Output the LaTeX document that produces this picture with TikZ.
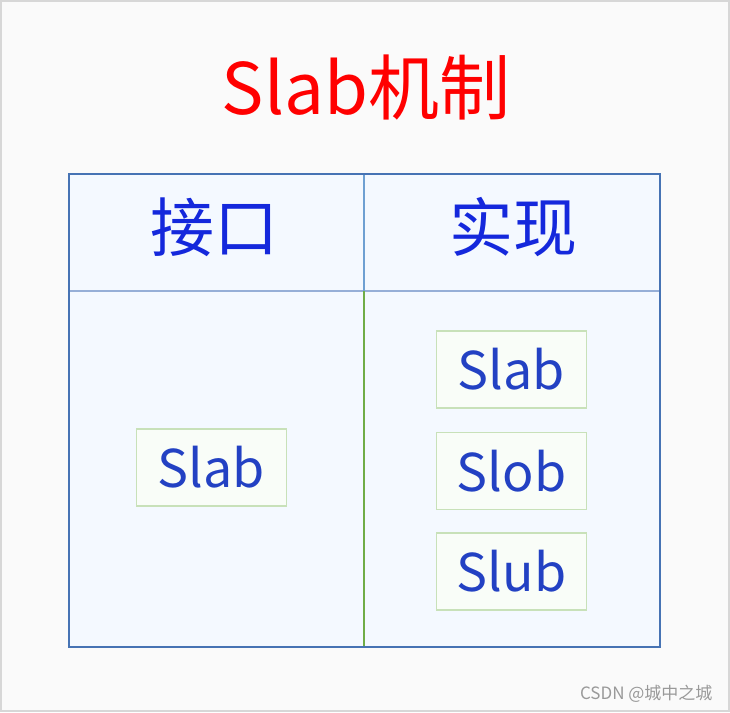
\documentclass[tikz,border=0pt]{standalone}
\usepackage{fontspec}
\setmainfont{Noto Sans CJK SC}
\usetikzlibrary{positioning}
\definecolor{titlered}{RGB}{255,0,0}
\definecolor{headblue}{RGB}{20,40,220}
\definecolor{slabblue}{RGB}{35,65,195}
\definecolor{tableline}{RGB}{70,115,180}
\definecolor{headline}{RGB}{150,175,215}
\definecolor{midline}{RGB}{110,160,210}
\definecolor{implline}{RGB}{112,173,71}
\definecolor{tablefill}{RGB}{244,249,255}
\definecolor{boxline}{RGB}{200,225,185}
\definecolor{boxfill}{RGB}{249,253,248}
\definecolor{pagefill}{RGB}{250,250,250}
\definecolor{pageline}{RGB}{215,215,215}

\tikzset{
  slabbox/.style={draw=boxline,line width=1.5pt,fill=boxfill,minimum width=150pt,
    minimum height=77pt,text=slabblue,font=\fontsize{52}{52}\selectfont},
  headtext/.style={text=headblue,font=\fontsize{64}{64}\selectfont},
}

\begin{document}
\begin{tikzpicture}[x=1pt,y=-1pt]
  \draw[pageline,fill=pagefill,line width=2pt](1,1) rectangle (729,711);
  \useasboundingbox (0,0) rectangle (730,712);
  % the table
  \fill[tablefill](69,174) rectangle (660,647);
  \draw[headline,line width=2pt](69,291)--(660,291);
  \draw[midline,line width=2pt](364,174)--(364,291);
  \draw[implline,line width=2pt](364,291)--(364,647);
  \draw[tableline,line width=1.8pt](69,174) rectangle (660,647);
  \node[text=titlered,font=\fontsize{71}{71}\selectfont] (title) at (366,88){Slab机制};
  \node[headtext] (iface) at (214,227){接口};
  \node[headtext] (impl) at (513,227){实现};
  % the slab boxes
  \node[slabbox] (ifslab) at (211.5,467.5){Slab};
  \node[slabbox] (implslab) at (511.5,369.5){Slab};
  \node[slabbox,below=23pt of implslab] (implslob){Slob};
  \node[slabbox,below=22pt of implslob] (implslub){Slub};
  \node[text=gray!80,font=\fontsize{17}{17}\selectfont,anchor=south east] (mark) at (716,706){CSDN @城中之城};
\end{tikzpicture}
\end{document}
